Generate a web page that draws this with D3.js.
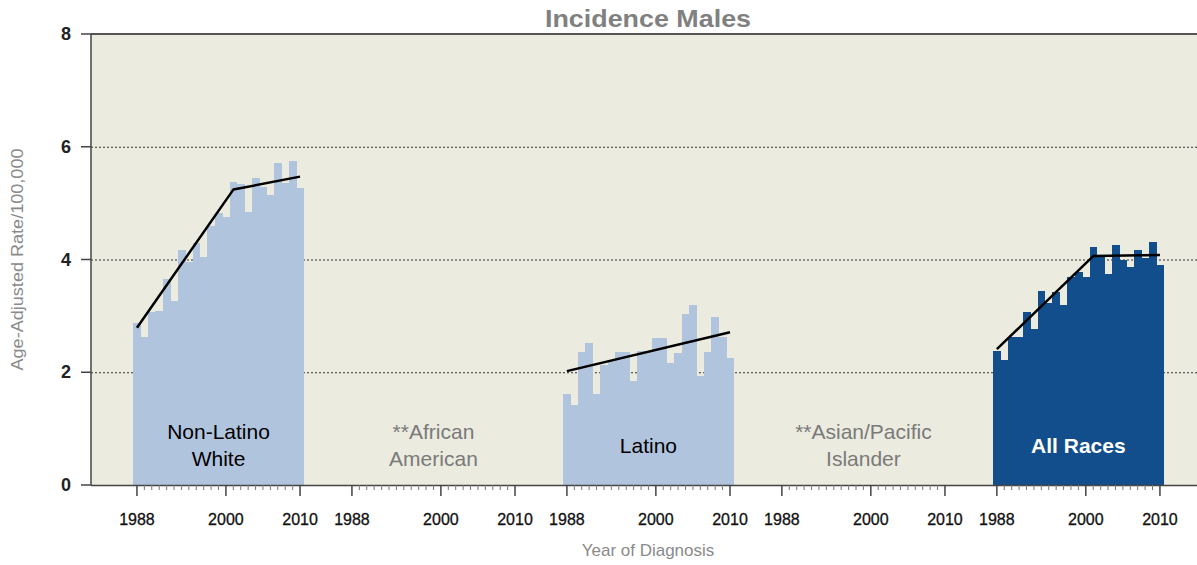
<!DOCTYPE html>
<html>
<head>
<meta charset="utf-8">
<script src="https://cdn.jsdelivr.net/npm/d3@7"></script>
<style>
  body { margin: 0; background: #fff; }
  svg { display: block; font-family: "Liberation Sans", Arial, sans-serif; }
</style>
</head>
<body>
<svg id="chart" width="1197" height="565"></svg>
<script>
// Diagnosis years shown in every panel
const years = [1988, 1989, 1990, 1991, 1992, 1993, 1994, 1995, 1996, 1997, 1998, 1999,
               2000, 2001, 2002, 2003, 2004, 2005, 2006, 2007, 2008, 2009, 2010];
const tickYears = [1988, 2000, 2010];
const yTicks = [0, 2, 4, 6, 8];

// Panels, left to right
const groups = ["Non-Latino White", "African American", "Latino", "Asian/Pacific Islander", "All Races"];
const groupLabelLines = [["Non-Latino", "White"], ["**African", "American"], ["Latino"],
                         ["**Asian/Pacific", "Islander"], ["All Races"]];

// Observed age-adjusted rates per 100,000
const nonLatinoWhite = [2.88, 2.63, 3.07, 3.09, 3.66, 3.27, 4.16, 3.96, 4.30, 4.04, 4.60, 4.82,
                        4.75, 5.38, 5.34, 4.85, 5.44, 5.28, 5.15, 5.71, 5.36, 5.75, 5.27];
const latino = [1.62, 1.42, 2.36, 2.52, 1.62, 2.12, 2.21, 2.36, 2.36, 1.85, 2.37, 2.38,
                2.61, 2.61, 2.16, 2.34, 3.04, 3.19, 1.94, 2.36, 2.98, 2.62, 2.26];
const allRaces = [2.38, 2.22, 2.63, 2.63, 3.06, 2.76, 3.45, 3.22, 3.43, 3.20, 3.69, 3.77,
                  3.69, 4.22, 4.07, 3.74, 4.25, 4.00, 3.86, 4.16, 4.03, 4.31, 3.91];

// Joinpoint trend vertices [year, rate]
const nonLatinoWhiteTrend = [[1988, 2.79], [2001, 5.24], [2010, 5.47]];
const latinoTrend = [[1988, 2.02], [2010, 2.71]];
const allRacesTrend = [[1988, 2.41], [2001, 4.06], [2010, 4.08]];

const seriesByGroup = [nonLatinoWhite, null, latino, null, allRaces];
const trendByGroup = [nonLatinoWhiteTrend, null, latinoTrend, null, allRacesTrend];
const barColorByGroup = ["#b0c4de", null, "#b0c4de", null, "#124e8b"];
const labelColorByGroup = ["#000", "#7a7a7a", "#000", "#7a7a7a", "#fff"];
const labelWeightByGroup = ["normal", "normal", "normal", "normal", "bold"];

const svg = d3.select("#chart");
const plot = { left: 91, right: 1197, top: 34, bottom: 485 };
const slotsPerGroup = 29; // 23 years plus spacing between panels
const slot = (gi, year) => gi * slotsPerGroup + (year - 1988);

const x = d3.scaleLinear().domain([-6.2, 143]).range([plot.left, plot.right]);
const y = d3.scaleLinear().domain([0, 8]).range([plot.bottom, plot.top]);
const unit = x(1) - x(0);

// Panel background
svg.append("rect")
  .attr("x", plot.left).attr("y", plot.top)
  .attr("width", plot.right - plot.left).attr("height", plot.bottom - plot.top)
  .attr("fill", "#ebebdf");

// Dotted reference lines
svg.append("g").selectAll("line")
  .data(yTicks.filter(d => d > 0 && d < 8))
  .join("line")
  .attr("x1", plot.left).attr("x2", plot.right)
  .attr("y1", d => y(d) + 0.5).attr("y2", d => y(d) + 0.5)
  .attr("stroke", "#333").attr("stroke-width", 1).attr("stroke-dasharray", "2,2");

// Bars
groups.forEach((g, gi) => {
  const vals = seriesByGroup[gi];
  if (!vals) return;
  svg.append("g").selectAll("rect")
    .data(years.map((yr, i) => ({ yr, v: vals[i] })))
    .join("rect")
    .attr("x", d => x(slot(gi, d.yr) - 0.5))
    .attr("width", unit + 0.4)
    .attr("y", d => y(d.v))
    .attr("height", d => y(0) - y(d.v))
    .attr("fill", barColorByGroup[gi])
    .attr("shape-rendering", "crispEdges");
});

// Trend lines
const line = d3.line();
groups.forEach((g, gi) => {
  const t = trendByGroup[gi];
  if (!t) return;
  svg.append("path")
    .attr("d", line(t.map(([yr, v]) => [x(slot(gi, yr)), y(v)])))
    .attr("fill", "none").attr("stroke", "#000").attr("stroke-width", 2.5)
    .attr("stroke-linejoin", "round");
});

// Panel labels
groups.forEach((g, gi) => {
  const lines = groupLabelLines[gi];
  const cx = x(slot(gi, 1999));
  const baselines = lines.length === 2 ? [439, 466] : [453];
  lines.forEach((txt, li) => {
    svg.append("text")
      .attr("x", cx).attr("y", baselines[li])
      .attr("text-anchor", "middle")
      .attr("font-size", 21)
      .attr("font-weight", labelWeightByGroup[gi])
      .attr("fill", labelColorByGroup[gi])
      .text(txt);
  });
});

// Frame
svg.append("line").attr("x1", plot.left).attr("x2", plot.right)
  .attr("y1", plot.top).attr("y2", plot.top).attr("stroke", "#555").attr("stroke-width", 2);
svg.append("line").attr("x1", plot.left).attr("x2", plot.left)
  .attr("y1", plot.top).attr("y2", plot.bottom).attr("stroke", "#444").attr("stroke-width", 1.5);
svg.append("line").attr("x1", plot.left).attr("x2", plot.right)
  .attr("y1", plot.bottom + 0.5).attr("y2", plot.bottom + 0.5).attr("stroke", "#444").attr("stroke-width", 1.5);

// Y axis
const yAxis = svg.append("g");
yAxis.selectAll("line").data(yTicks).join("line")
  .attr("x1", plot.left - 10).attr("x2", plot.left)
  .attr("y1", d => y(d)).attr("y2", d => y(d))
  .attr("stroke", "#444").attr("stroke-width", 1.5);
yAxis.selectAll("text").data(yTicks).join("text")
  .attr("x", plot.left - 20).attr("y", d => y(d) + 6)
  .attr("text-anchor", "end")
  .attr("font-size", 18).attr("font-weight", "bold").attr("fill", "#222")
  .text(d => d);

// X axis: yearly minor ticks, labelled major ticks
groups.forEach((g, gi) => {
  const ax = svg.append("g");
  ax.selectAll("line").data(years).join("line")
    .attr("x1", d => x(slot(gi, d))).attr("x2", d => x(slot(gi, d)))
    .attr("y1", plot.bottom)
    .attr("y2", d => plot.bottom + (tickYears.includes(d) ? 11 : 5))
    .attr("stroke", d => tickYears.includes(d) ? "#444" : "#777")
    .attr("stroke-width", d => tickYears.includes(d) ? 1.5 : 1);
  ax.selectAll("text").data(tickYears).join("text")
    .attr("x", d => x(slot(gi, d))).attr("y", 525)
    .attr("text-anchor", "middle")
    .attr("font-size", 16).attr("fill", "#111")
    .attr("stroke", "#111").attr("stroke-width", 0.3)
    .text(d => d);
});

// Titles
svg.append("text")
  .attr("x", 648).attr("y", 27)
  .attr("text-anchor", "middle")
  .attr("font-size", 24).attr("font-weight", "bold").attr("fill", "#808080")
  .attr("textLength", 206).attr("lengthAdjust", "spacingAndGlyphs")
  .text("Incidence Males");

svg.append("text")
  .attr("x", 648).attr("y", 556)
  .attr("text-anchor", "middle")
  .attr("font-size", 17).attr("fill", "#8a8a8a")
  .text("Year of Diagnosis");

svg.append("text")
  .attr("transform", `translate(23, ${(plot.top + plot.bottom) / 2}) rotate(-90)`)
  .attr("text-anchor", "middle")
  .attr("font-size", 16).attr("fill", "#8a8a8a")
  .attr("textLength", 222).attr("lengthAdjust", "spacingAndGlyphs")
  .text("Age-Adjusted Rate/100,000");
</script>
</body>
</html>
